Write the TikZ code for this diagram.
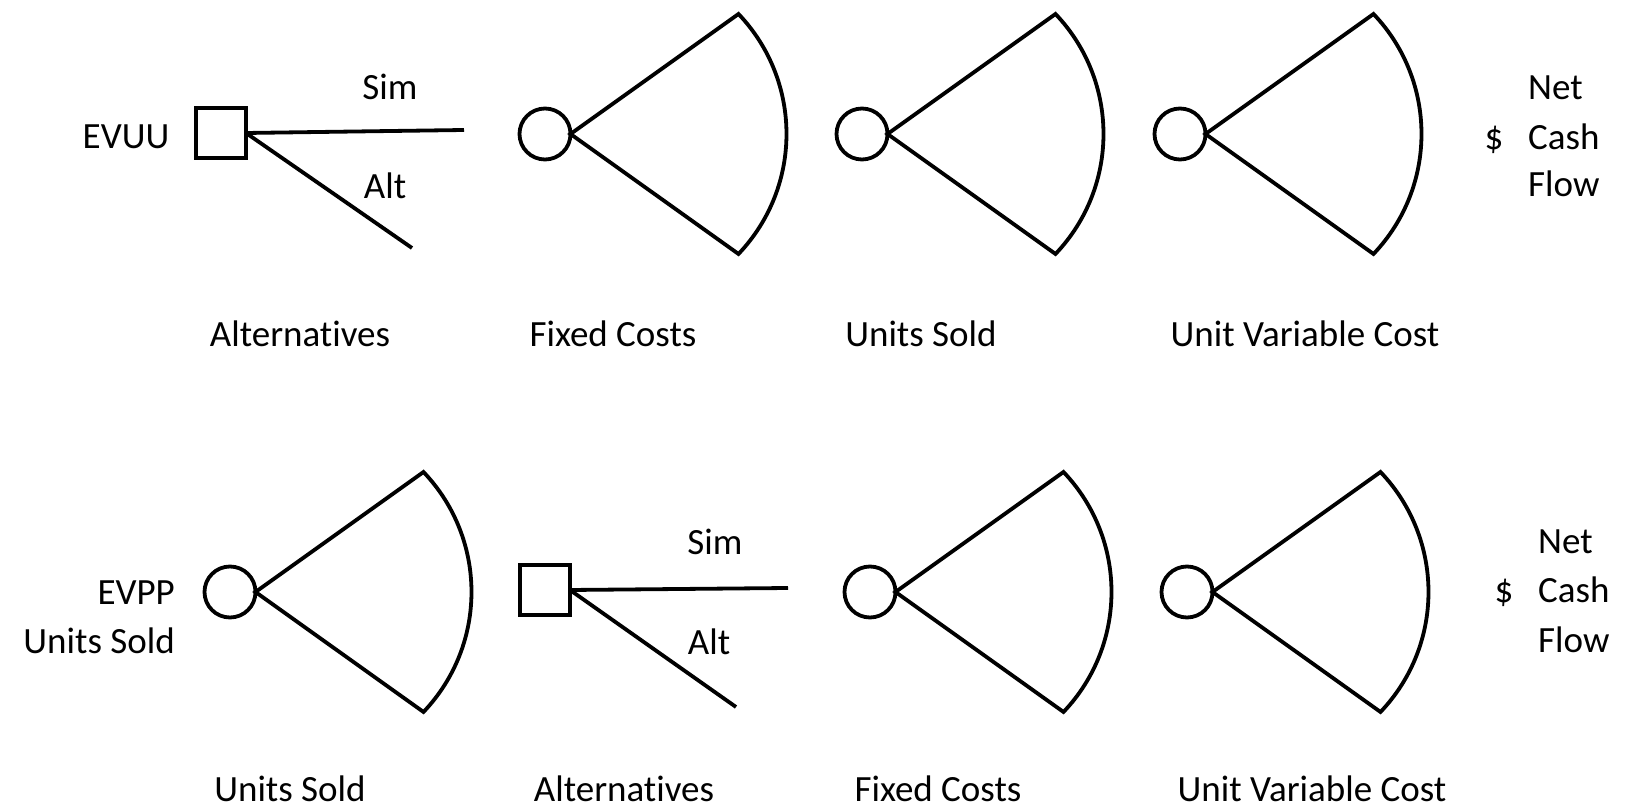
\documentclass[tikz,border=0pt]{standalone}
\usepackage{fontspec}
\setmainfont[Ligatures={NoCommon}]{Carlito}
\begin{document}
\begin{tikzpicture}[x=1pt,y=1pt,
  every node/.style={font=\fontsize{37}{49}\selectfont, inner sep=0pt},
  lbl/.style={anchor=base},
  lble/.style={anchor=base east},
  lblw/.style={anchor=base west},
  decision/.style={draw, rectangle, line width=3.8pt, minimum size=50pt, outer sep=0pt},
  chance/.style={draw, circle, line width=3.8pt, minimum size=51pt, outer sep=0pt},
  branch/.style={line width=3.8pt},
  fan/.style={line width=3.8pt, line join=miter}]
\useasboundingbox (0,0) rectangle (1625,809);

% ---------------- top tree ----------------
\node[lbl] (evuu) at (126,660) {EVUU};
\node[decision] (s1) at (221,676) {};
\coordinate (s1sim) at (464,679);
\coordinate (s1alt) at (412,561);
\draw[branch] (s1.east) -- (s1sim);
\draw[branch] (s1.east) -- (s1alt);
\node[lbl] (sim1) at (390,709) {Sim};
\node[lbl] (alt1) at (385,610) {Alt};

\node[chance] (c11) at (545,675) {};
\node[chance] (c12) at (862,675) {};
\node[chance] (c13) at (1180,675) {};
\foreach \c in {c11,c12,c13}
  \draw[fan] (\c.east) -- ++(168,120) arc[start angle=43.6, end angle=-43.6, radius=174] -- cycle;

\node[lbl] (d1) at (1494,659) {\$};
\node[lblw] (net1) at (1528,709) {Net};
\node[lblw] (cash1) at (1528,659) {Cash};
\node[lblw] (flow1) at (1528,612) {Flow};

\node[lbl] (la1) at (300,462) {Alternatives};
\node[lbl] (la2) at (613,462) {Fixed Costs};
\node[lbl] (la3) at (921,462) {Units Sold};
\node[lbl] (la4) at (1305,462) {Unit Variable Cost};

% ---------------- bottom tree ----------------
\node[lble] (evpp) at (175,204) {EVPP};
\node[lble] (evpp2) at (175,156) {Units Sold};

\node[chance] (c21) at (230,217) {};
\node[decision] (s2) at (545,219) {};
\coordinate (s2sim) at (788,221);
\coordinate (s2alt) at (736,102);
\draw[branch] (s2.east) -- (s2sim);
\draw[branch] (s2.east) -- (s2alt);
\node[lbl] (sim2) at (715,254) {Sim};
\node[lbl] (alt2) at (709,154) {Alt};

\node[chance] (c22) at (870,217) {};
\node[chance] (c23) at (1187,217) {};
\foreach \c in {c21,c22,c23}
  \draw[fan] (\c.east) -- ++(168,120) arc[start angle=43.6, end angle=-43.6, radius=174] -- cycle;

\node[lbl] (d2) at (1504,206) {\$};
\node[lblw] (net2) at (1538,255) {Net};
\node[lblw] (cash2) at (1538,206) {Cash};
\node[lblw] (flow2) at (1538,157) {Flow};

\node[lbl] (lb1) at (290,8) {Units Sold};
\node[lbl] (lb2) at (624,8) {Alternatives};
\node[lbl] (lb3) at (938,8) {Fixed Costs};
\node[lbl] (lb4) at (1312,8) {Unit Variable Cost};
\end{tikzpicture}
\end{document}
